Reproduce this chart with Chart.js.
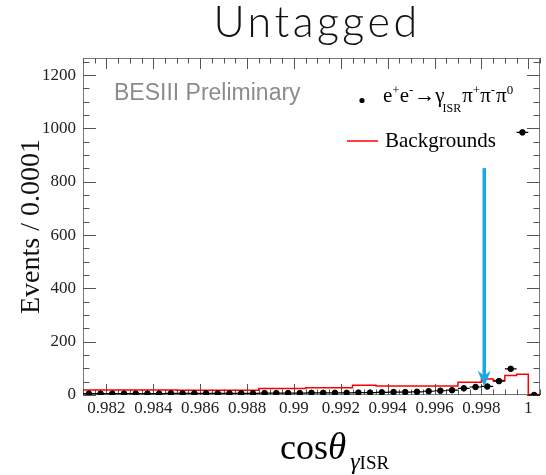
<!DOCTYPE html>
<html><head><meta charset="utf-8">
<script src="https://cdn.jsdelivr.net/npm/chart.js@4/dist/chart.umd.min.js"></script>
<style>html,body{margin:0;padding:0;background:#fff}#wrap{width:546px;height:475px}</style>
</head><body><div id="wrap"><canvas id="c" width="546" height="475"></canvas></div>
<script>
// ---- data ----
const binCenters = [0.98125, 0.98175, 0.98225, 0.98275, 0.98325, 0.98375, 0.98425, 0.98475, 0.98525, 0.98575,
  0.98625, 0.98675, 0.98725, 0.98775, 0.98825, 0.98875, 0.98925, 0.98975, 0.99025, 0.99075,
  0.99125, 0.99175, 0.99225, 0.99275, 0.99325, 0.99375, 0.99425, 0.99475, 0.99525, 0.99575,
  0.99625, 0.99675, 0.99725, 0.99775, 0.99825, 0.99875, 0.99925, 0.99975, 1.00025];
const binHalfWidth = 0.00025;
const signalCounts = [5, 5, 5, 5, 5, 5, 5, 6, 6, 6,
  6, 6, 6, 6, 6, 7, 7, 7, 7, 8,
  8, 8, 8, 9, 9, 10, 11, 11, 12, 14,
  16, 18, 25, 30, 32, 52, 98, 985, 0];
const backgroundCounts = [19, 19, 19, 19, 19, 19, 19, 19, 18, 18,
  18, 18, 18, 18, 18, 24, 24, 24, 24, 27,
  27, 27, 27, 37, 37, 34, 34, 34, 34, 34,
  34, 34, 48, 48, 60, 54, 73, 78, 2];
const xTickValues = [0.982, 0.984, 0.986, 0.988, 0.990, 0.992, 0.994, 0.996, 0.998, 1.000];
const xTickLabels = ['0.982', '0.984', '0.986', '0.988', '0.99', '0.992', '0.994', '0.996', '0.998', '1'];
const yTickValues = [0, 200, 400, 600, 800, 1000, 1200];
const yTickLabels = ['0', '200', '400', '600', '800', '1000', '1200'];
const arrowX = [0.99812];
const arrowY = [851, 31]; // top, tip

// ---- build tables ----
const signalPoints = binCenters.map((x, i) => ({x: x, y: signalCounts[i]}));
const bgStep = [];
binCenters.forEach((x, i) => {
  bgStep.push({x: x - binHalfWidth, y: backgroundCounts[i]});
  bgStep.push({x: x + binHalfWidth, y: backgroundCounts[i]});
});

const SERIF = '"Liberation Serif", "DejaVu Serif", serif';

function drawRich(ctx, x, y, parts) {
  for (const p of parts) {
    ctx.font = p.font;
    ctx.fillText(p.t, x, y + (p.dy || 0));
    x += ctx.measureText(p.t).width + (p.k || 0);
  }
  return x;
}

const decor = {
  id: 'decor',
  beforeDatasetsDraw(chart) {
    const {ctx, chartArea: a, scales: {x, y}} = chart;
    ctx.save();
    ctx.strokeStyle = '#777';
    ctx.lineWidth = 1;
    ctx.strokeRect(a.left + 0.5, a.top + 0.5, a.right - a.left - 1, a.bottom - a.top - 1);
    ctx.strokeStyle = '#555';
    ctx.beginPath();
    for (let k = 0; k <= 39; k++) {
      const v = 0.981 + k * 0.0005;
      const px = Math.round(x.getPixelForValue(v)) + 0.5;
      const major = xTickValues.some(t => Math.abs(t - v) < 1e-7);
      const len = major ? 11 : 5.5;
      ctx.moveTo(px, a.bottom); ctx.lineTo(px, a.bottom - len);
      ctx.moveTo(px, a.top); ctx.lineTo(px, a.top + len);
    }
    for (let v = 0; v <= 1250; v += 50) {
      const py = Math.round(y.getPixelForValue(v)) + 0.5;
      const major = v % 200 === 0;
      const len = major ? 13 : 6.5;
      ctx.moveTo(a.left, py); ctx.lineTo(a.left + len, py);
      ctx.moveTo(a.right, py); ctx.lineTo(a.right - len, py);
    }
    ctx.stroke();
    ctx.restore();
  },
  afterDatasetsDraw(chart) {
    const {ctx, scales: {x, y}} = chart;
    ctx.save();
    ctx.strokeStyle = '#000';
    ctx.lineWidth = 1.2;
    ctx.beginPath();
    signalPoints.forEach(p => {
      const py = y.getPixelForValue(p.y);
      ctx.moveTo(x.getPixelForValue(p.x - binHalfWidth), py);
      ctx.lineTo(x.getPixelForValue(p.x + binHalfWidth), py);
    });
    ctx.stroke();
    const ax = x.getPixelForValue(arrowX[0]);
    const yTop = y.getPixelForValue(arrowY[0]);
    const yTip = y.getPixelForValue(arrowY[1]);
    ctx.strokeStyle = '#1ba7e4';
    ctx.fillStyle = '#1ba7e4';
    ctx.lineWidth = 3.5;
    ctx.beginPath();
    ctx.moveTo(ax, yTop); ctx.lineTo(ax, yTip - 8);
    ctx.stroke();
    ctx.beginPath();
    ctx.moveTo(ax, yTip);
    ctx.lineTo(ax - 6.5, yTip - 16);
    ctx.lineTo(ax, yTip - 11);
    ctx.lineTo(ax + 6.5, yTip - 16);
    ctx.closePath();
    ctx.fill();
    ctx.restore();
  },
  afterDraw(chart) {
    const {ctx} = chart;
    ctx.save();
    ctx.textBaseline = 'alphabetic';
    ctx.fillStyle = '#111';
    ctx.font = '300 43px Lato, "Open Sans", sans-serif';
    ctx.textAlign = 'center';
    try { ctx.letterSpacing = '3.5px'; } catch (e) {}
    ctx.fillText('Untagged', 317, 37);
    try { ctx.letterSpacing = '0px'; } catch (e) {}
    ctx.textAlign = 'left';
    ctx.fillStyle = '#8c8c8c';
    ctx.font = '23px "Liberation Sans", Arial, sans-serif';
    ctx.fillText('BESIII Preliminary', 114, 100);
    ctx.fillStyle = '#000';
    ctx.beginPath();
    ctx.arc(362, 100.5, 2.6, 0, Math.PI * 2);
    ctx.fill();
    const big = '21px ' + SERIF, sup = '13px ' + SERIF, sub = '12px ' + SERIF;
    drawRich(ctx, 383, 102, [
      {t: 'e', font: big}, {t: '+', font: sup, dy: -8},
      {t: 'e', font: big}, {t: '-', font: sup, dy: -8, k: 1},
      {t: '\u2192', font: big},
      {t: '\u03b3', font: big, k: -2}, {t: 'ISR', font: sub, dy: 10, k: 1},
      {t: '\u03c0', font: big}, {t: '+', font: sup, dy: -8},
      {t: '\u03c0', font: big}, {t: '-', font: sup, dy: -8, k: 1},
      {t: '\u03c0', font: big}, {t: '0', font: sup, dy: -8}
    ]);
    ctx.strokeStyle = '#ff0000';
    ctx.lineWidth = 1.5;
    ctx.beginPath();
    ctx.moveTo(347, 141); ctx.lineTo(378, 141);
    ctx.stroke();
    ctx.font = big;
    ctx.fillText('Backgrounds', 385, 147);
    ctx.fillStyle = '#000';
    drawRich(ctx, 280, 459, [
      {t: 'cos', font: '36px ' + SERIF},
      {t: '\u03b8', font: 'italic 37px ' + SERIF, k: 4},
      {t: '\u03b3', font: 'italic 24px ' + SERIF, dy: 10},
      {t: 'ISR', font: '19px ' + SERIF, dy: 10}
    ]);
    ctx.restore();
  }
};

new Chart(document.getElementById('c'), {
  type: 'scatter',
  data: {
    datasets: [
      {
        label: 'e+e- -> gamma pi+pi-pi0',
        data: signalPoints,
        backgroundColor: '#000',
        borderColor: '#000',
        pointRadius: 2.8,
        pointHoverRadius: 2.8,
        showLine: false
      },
      {
        type: 'line',
        label: 'Backgrounds',
        data: bgStep,
        borderColor: '#ff0000',
        borderWidth: 1.5,
        pointRadius: 0,
        fill: false,
        tension: 0
      }
    ]
  },
  options: {
    responsive: false,
    devicePixelRatio: 1,
    animation: false,
    layout: {padding: {left: 0, right: 6, top: 58, bottom: 0}},
    plugins: {legend: {display: false}, tooltip: {enabled: false}, title: {display: false}},
    scales: {
      x: {
        type: 'linear', min: 0.981, max: 1.0005,
        afterBuildTicks: s => { s.ticks = xTickValues.map(v => ({value: v})); },
        afterFit: s => { s.height = 80; },
        ticks: {
          callback: (v, i) => xTickLabels[i],
          font: {family: SERIF, size: 17}, color: '#222', padding: 3,
          maxRotation: 0, autoSkip: false
        },
        grid: {display: false, drawTicks: false},
        border: {display: false}
      },
      y: {
        type: 'linear', min: 0, max: 1264,
        afterBuildTicks: s => { s.ticks = yTickValues.map(v => ({value: v})); },
        afterFit: s => { s.width = 83; },
        ticks: {
          callback: (v, i) => yTickLabels[i],
          font: {family: SERIF, size: 17}, color: '#222', padding: 7, autoSkip: false
        },
        grid: {display: false, drawTicks: false},
        border: {display: false},
        title: {
          display: true, text: 'Events / 0.0001',
          font: {family: SERIF, size: 28}, color: '#111',
          padding: {top: 15, bottom: 0}
        }
      }
    }
  },
  plugins: [decor]
});
</script>
</body></html>
